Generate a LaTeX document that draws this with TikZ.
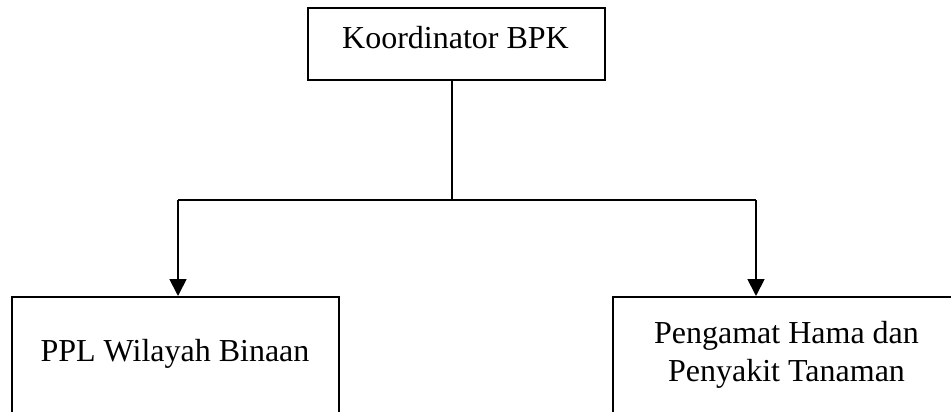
\documentclass[tikz,border=0pt]{standalone}
\usepackage{fontspec}
\setmainfont{Liberation Serif}
\usetikzlibrary{arrows.meta}
\begin{document}
\begin{tikzpicture}[x=1pt,y=-1pt,
  box/.style={draw,line width=1.8pt,rectangle,inner sep=0pt,anchor=north west},
  lbl/.style={font=\fontsize{32}{38}\selectfont,inner sep=0pt,align=center},
  conn/.style={line width=1.8pt},
  arr/.style={conn,-{Triangle[width=17pt,length=17pt]}}]
\useasboundingbox (0,0) rectangle (951,412);
\clip (0,0) rectangle (951,412);
\node[box,minimum width=297pt,minimum height=72pt] (top) at (307,7) {};
\node[lbl,anchor=base] (toptxt) at (455.5,49) {Koordinator BPK};
\node[box,minimum width=327pt,minimum height=140pt] (left) at (11,296) {};
\node[lbl,anchor=base] (lefttxt) at (175,361) {PPL Wilayah Binaan};
\node[box,minimum width=360pt,minimum height=140pt] (right) at (612,296) {};
\node[lbl,anchor=base] (righttxt) at (786.5,381) {Pengamat Hama dan\\Penyakit Tanaman};
\coordinate (j) at (452,200);
\coordinate (jl) at (178,200);
\coordinate (jr) at (756,200);
\draw[conn] (top.south -| j) -- (j);
\draw[conn] (jl) -- (jr);
\draw[arr] (jl) -- (jl |- left.north);
\draw[arr] (jr) -- (jr |- right.north);
\end{tikzpicture}
\end{document}
